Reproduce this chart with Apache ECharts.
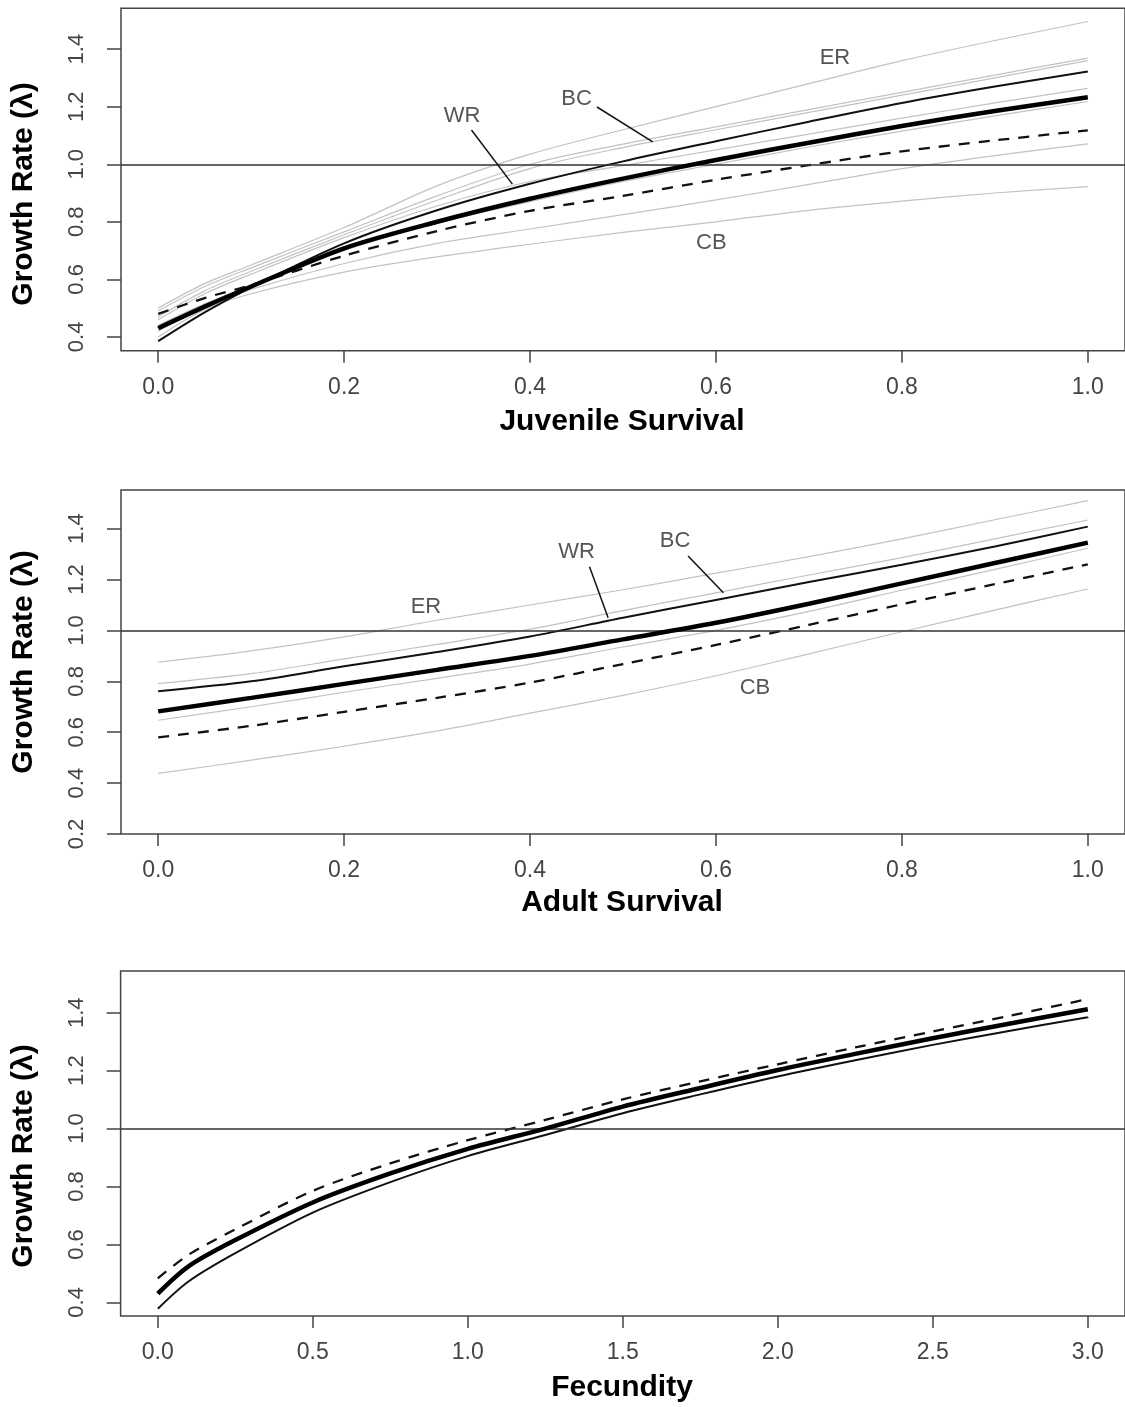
<!DOCTYPE html>
<html><head><meta charset="utf-8">
<script src="https://cdn.jsdelivr.net/npm/echarts@6/dist/echarts.min.js"></script>
<style>html,body{margin:0;padding:0;background:#fff}#c{width:1125px;height:1407px}</style>
</head><body><div id="c"></div>
<script>
// ---------- Panel 1: Juvenile Survival ----------
const juvX      = [0, 0.05, 0.1, 0.2, 0.3, 0.4, 0.5, 0.6, 0.7, 0.8, 0.9, 1.0];
const juvMean   = [0.43, 0.505, 0.575, 0.708, 0.80, 0.88, 0.95, 1.015, 1.075, 1.133, 1.185, 1.233];
const juvThin   = [0.385, 0.485, 0.572, 0.725, 0.84, 0.932, 1.01, 1.08, 1.148, 1.213, 1.27, 1.322];
const juvDashed = [0.48, 0.535, 0.58, 0.682, 0.768, 0.838, 0.89, 0.946, 0.997, 1.045, 1.083, 1.118];
const juvER     = [0.50, 0.585, 0.65, 0.78, 0.925, 1.035, 1.12, 1.20, 1.28, 1.36, 1.43, 1.496];
const juvG2     = [0.49, 0.575, 0.64, 0.765, 0.89, 1.0, 1.07, 1.13, 1.19, 1.25, 1.31, 1.369];
const juvG3     = [0.47, 0.56, 0.628, 0.755, 0.875, 0.985, 1.058, 1.12, 1.18, 1.24, 1.30, 1.36];
const juvG4     = [0.46, 0.55, 0.618, 0.745, 0.855, 0.94, 0.995, 1.05, 1.105, 1.16, 1.213, 1.264];
const juvG5     = [0.44, 0.515, 0.575, 0.70, 0.795, 0.87, 0.94, 1.00, 1.06, 1.115, 1.168, 1.218];
const juvG6     = [0.42, 0.505, 0.565, 0.655, 0.725, 0.775, 0.825, 0.876, 0.93, 0.985, 1.03, 1.071];
const juvCB     = [0.40, 0.495, 0.55, 0.625, 0.678, 0.722, 0.763, 0.80, 0.84, 0.872, 0.90, 0.922];
const juvLabels   = [['ER', 0.728, 1.370], ['BC', 0.450, 1.227], ['WR', 0.327, 1.168], ['CB', 0.595, 0.726]];
const juvPointers = [[0.472, 1.199, 0.532, 1.078], [0.337, 1.119, 0.381, 0.931]];

// ---------- Panel 2: Adult Survival ----------
const adX      = [0, 0.1, 0.2, 0.3, 0.4, 0.5, 0.6, 0.7, 0.8, 0.9, 1.0];
const adMean   = [0.682, 0.735, 0.79, 0.845, 0.90, 0.965, 1.03, 1.105, 1.185, 1.265, 1.345];
const adThin   = [0.761, 0.80, 0.859, 0.915, 0.976, 1.05, 1.12, 1.19, 1.258, 1.33, 1.408];
const adDashed = [0.58, 0.625, 0.68, 0.735, 0.795, 0.868, 0.943, 1.022, 1.103, 1.182, 1.26];
const adER     = [0.875, 0.92, 0.975, 1.04, 1.10, 1.16, 1.225, 1.29, 1.36, 1.435, 1.51];
const adG2     = [0.791, 0.83, 0.888, 0.945, 1.005, 1.078, 1.148, 1.218, 1.286, 1.36, 1.434];
const adG3     = [0.647, 0.70, 0.757, 0.812, 0.868, 0.935, 1.00, 1.075, 1.158, 1.24, 1.323];
const adCB     = [0.438, 0.49, 0.545, 0.605, 0.675, 0.745, 0.822, 0.908, 0.995, 1.08, 1.163];
const adLabels   = [['ER', 0.288, 1.093], ['WR', 0.450, 1.309], ['BC', 0.556, 1.352], ['CB', 0.642, 0.775]];
const adPointers = [[0.464, 1.250, 0.484, 1.050], [0.570, 1.293, 0.608, 1.148]];

// ---------- Panel 3: Fecundity ----------
const fecX      = [0, 0.1, 0.25, 0.5, 0.75, 1.0, 1.25, 1.5, 1.75, 2.0, 2.25, 2.5, 2.75, 3.0];
const fecMean   = [0.43, 0.525, 0.615, 0.745, 0.845, 0.93, 1.0, 1.076, 1.14, 1.202, 1.258, 1.312, 1.363, 1.412];
const fecThin   = [0.378, 0.473, 0.57, 0.71, 0.815, 0.905, 0.978, 1.053, 1.118, 1.18, 1.236, 1.289, 1.338, 1.384];
const fecDashed = [0.483, 0.565, 0.652, 0.785, 0.88, 0.96, 1.03, 1.101, 1.163, 1.222, 1.28, 1.335, 1.39, 1.447];

// ---------- Tick labels ----------
const survTicks = [0, 0.2, 0.4, 0.6, 0.8, 1.0];
const fecTicks  = [0, 0.5, 1.0, 1.5, 2.0, 2.5, 3.0];
const yTicksA   = [0.4, 0.6, 0.8, 1.0, 1.2, 1.4];
const yTicksB   = [0.2, 0.4, 0.6, 0.8, 1.0, 1.2, 1.4];
const refLine   = 1.0;

const FONT = '"Liberation Sans", Arial, Helvetica, sans-serif';
const pairs = (xs, ys) => xs.map((x, i) => [x, ys[i]]);
const STY = {
  gray:   {color: '#c2c2c2', width: 1.2, type: 'solid', z: 2},
  dashed: {color: '#111',    width: 2.3, type: [11, 9], z: 3},
  thin:   {color: '#111',    width: 2.0, type: 'solid', z: 4},
  thick:  {color: '#000',    width: 4.5, type: 'solid', z: 5}
};
function lineS(idx, xs, ys, kind, extra) {
  const s = STY[kind];
  return Object.assign({
    type: 'line', xAxisIndex: idx, yAxisIndex: idx, data: pairs(xs, ys),
    showSymbol: false, symbol: 'none', smooth: 0.3, z: s.z, silent: true,
    lineStyle: {color: s.color, width: s.width, type: s.type}
  }, extra || {});
}
const refMark = {
  silent: true, symbol: ['none', 'none'], label: {show: false},
  lineStyle: {color: '#333', width: 1.5, type: 'solid'},
  data: [{yAxis: refLine}]
};
function annoS(idx, labels, pointers) {
  return {
    type: 'scatter', xAxisIndex: idx, yAxisIndex: idx, z: 6, silent: true,
    symbol: 'circle', symbolSize: 1, itemStyle: {color: 'rgba(0,0,0,0)'},
    data: labels.map(l => ({name: l[0], value: [l[1], l[2]]})),
    label: {show: true, position: 'inside', formatter: '{b}', fontFamily: FONT, fontSize: 22, color: '#2a2a2a'},
    markLine: {
      silent: true, symbol: ['none', 'none'], label: {show: false},
      lineStyle: {color: '#111', width: 1.5, type: 'solid'},
      data: pointers.map(p => [{coord: [p[0], p[1]]}, {coord: [p[2], p[3]]}])
    }
  };
}
function xAx(idx, min, max, ticks) {
  return {
    gridIndex: idx, type: 'value', min: min, max: max,
    axisLine: {show: false, onZero: false},
    axisTick: {show: true, length: 12, customValues: ticks, lineStyle: {color: '#444', width: 1.5}},
    axisLabel: {customValues: ticks, margin: 25, fontFamily: FONT, fontSize: 23, color: '#444',
                formatter: v => v.toFixed(1)},
    splitLine: {show: false}
  };
}
function yAx(idx, min, max, ticks) {
  return {
    gridIndex: idx, type: 'value', min: min, max: max,
    axisLine: {show: false, onZero: false},
    axisTick: {show: true, length: 14, customValues: ticks, lineStyle: {color: '#444', width: 1.5}},
    axisLabel: {customValues: ticks, rotate: 90, margin: 33, fontFamily: FONT, fontSize: 22, color: '#444',
                formatter: v => v.toFixed(1)},
    splitLine: {show: false}
  };
}
const gridBase = {show: true, borderColor: '#444', borderWidth: 1.5, backgroundColor: 'transparent', containLabel: false};

const titleFont = 'bold 30px ' + FONT;
function txt(x, y, t, rot) {
  return {type: 'text', x: x, y: y, rotation: rot || 0, silent: true,
          style: {text: t, font: titleFont, fill: '#000', textAlign: 'center', textVerticalAlign: 'middle'}};
}

const chart = echarts.init(document.getElementById('c'), null, {renderer: 'canvas'});
chart.setOption({
  animation: false,
  backgroundColor: '#fff',
  grid: [
    Object.assign({left: 121, top: 8.3, width: 1006, height: 342.4}, gridBase),
    Object.assign({left: 121, top: 490, width: 1006, height: 344}, gridBase),
    Object.assign({left: 120.6, top: 971, width: 1008.7, height: 345}, gridBase)
  ],
  xAxis: [xAx(0, -0.04, 1.04, survTicks), xAx(1, -0.04, 1.04, survTicks), xAx(2, -0.12, 3.12, fecTicks)],
  yAxis: [yAx(0, 0.352, 1.542, yTicksA), yAx(1, 0.2, 1.552, yTicksB), yAx(2, 0.353, 1.544, yTicksA)],
  series: [
    lineS(0, juvX, juvER, 'gray'), lineS(0, juvX, juvG2, 'gray'), lineS(0, juvX, juvG3, 'gray'),
    lineS(0, juvX, juvG4, 'gray'), lineS(0, juvX, juvG5, 'gray'), lineS(0, juvX, juvG6, 'gray'),
    lineS(0, juvX, juvCB, 'gray'),
    lineS(0, juvX, juvDashed, 'dashed', {markLine: refMark}),
    lineS(0, juvX, juvThin, 'thin'), lineS(0, juvX, juvMean, 'thick'),
    annoS(0, juvLabels, juvPointers),

    lineS(1, adX, adER, 'gray'), lineS(1, adX, adG2, 'gray'), lineS(1, adX, adG3, 'gray'),
    lineS(1, adX, adCB, 'gray'),
    lineS(1, adX, adDashed, 'dashed', {markLine: refMark}),
    lineS(1, adX, adThin, 'thin'), lineS(1, adX, adMean, 'thick'),
    annoS(1, adLabels, adPointers),

    lineS(2, fecX, fecDashed, 'dashed', {markLine: refMark}),
    lineS(2, fecX, fecThin, 'thin'), lineS(2, fecX, fecMean, 'thick')
  ],
  graphic: [
    txt(24, 194, 'Growth Rate (λ)', Math.PI / 2),
    txt(24, 662, 'Growth Rate (λ)', Math.PI / 2),
    txt(24, 1156, 'Growth Rate (λ)', Math.PI / 2),
    txt(622, 422, 'Juvenile Survival'),
    txt(622, 903, 'Adult Survival'),
    txt(622, 1388, 'Fecundity')
  ]
});
</script></body></html>
